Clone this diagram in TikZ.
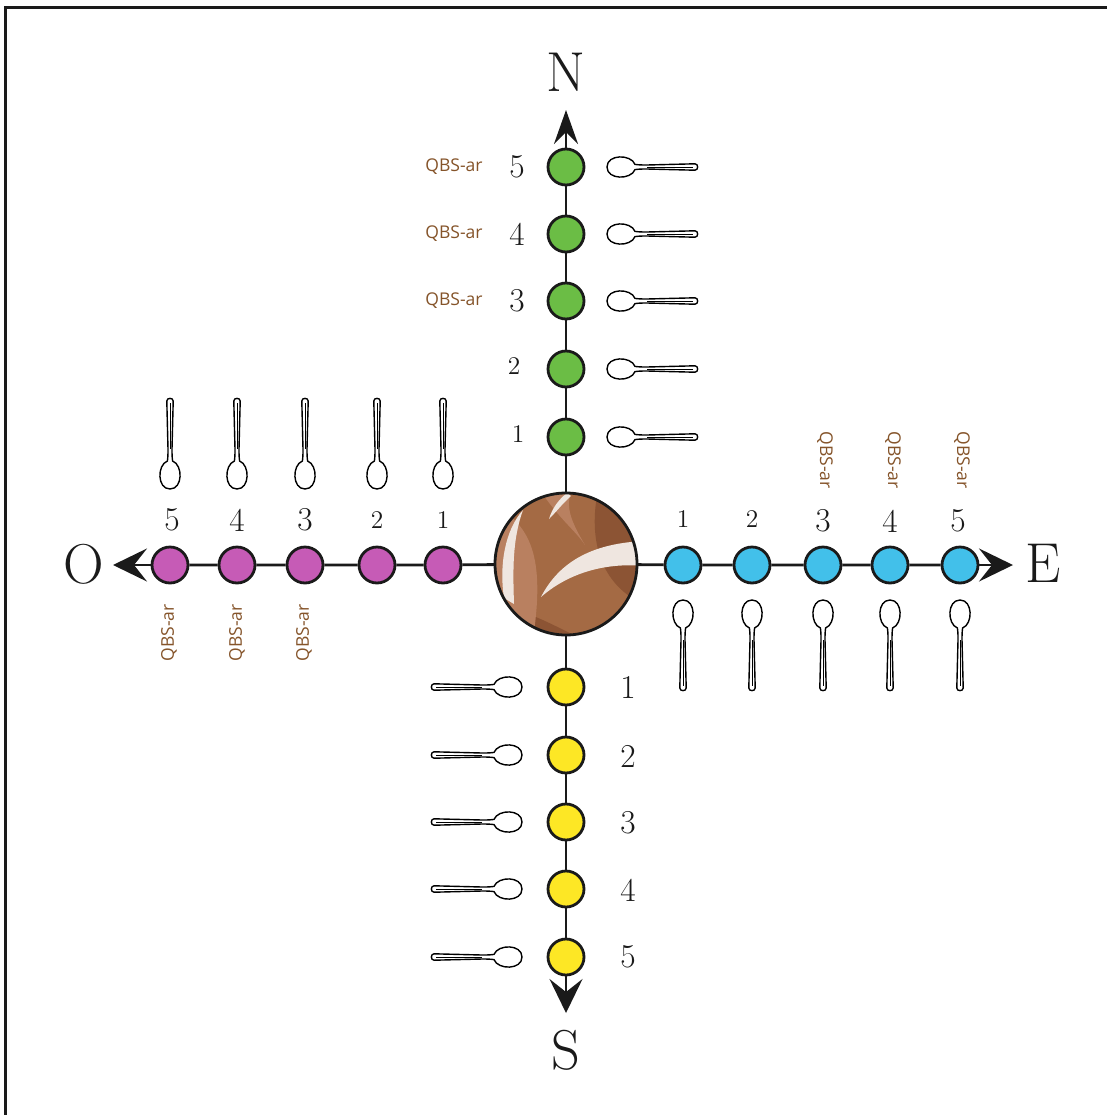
\documentclass[tikz,border=0pt]{standalone}
\usepackage{fontspec}
\newfontfamily\qbsfont{Open Sans}
\usetikzlibrary{arrows.meta}
\definecolor{inkcol}{HTML}{1A1A1A}
\definecolor{beadgreen}{HTML}{6BBD45}
\definecolor{beadpink}{HTML}{C65BB6}
\definecolor{beadcyan}{HTML}{42C0EA}
\definecolor{beadyellow}{HTML}{FDE725}
\definecolor{qbsbrown}{HTML}{85542A}
\definecolor{ballbase}{HTML}{A46A44}
\definecolor{balldark}{HTML}{8C5434}
\definecolor{balllight}{HTML}{B98060}
\definecolor{ballstreak}{HTML}{EFE6E0}
\begin{document}
\begin{tikzpicture}[x=0.02cm,y=-0.02cm,
  axisline/.style={draw=inkcol, line width=0.056cm},
  bead/.style={circle, draw=inkcol, line width=0.056cm, minimum size=0.72cm, inner sep=0pt},
  beadN/.style={bead, fill=beadgreen},
  beadO/.style={bead, fill=beadpink},
  beadE/.style={bead, fill=beadcyan},
  beadS/.style={bead, fill=beadyellow},
  numbig/.style={font=\fontsize{19}{21}\selectfont, text=inkcol, inner sep=0pt},
  numsmall/.style={font=\fontsize{14.5}{16}\selectfont, text=inkcol, inner sep=0pt},
  compass/.style={font=\fontsize{32}{34}\selectfont, text=inkcol, inner sep=0pt},
  qbs/.style={font=\qbsfont\fontsize{10}{12}\selectfont, text=qbsbrown, inner sep=0pt},
  spoonline/.style={draw=black, line width=0.028cm, fill=white},
  tipwide/.style={-{Stealth[length=0.68cm,width=0.66cm,inset=0.26cm]}},
  tipnarrow/.style={-{Stealth[length=0.68cm,width=0.48cm,inset=0.24cm]}},
  spoon/.pic={
    \draw[spoonline] (12,-2.6) .. controls (8,-13) and (-16,-13) .. (-16,0)
      .. controls (-16,13) and (8,13) .. (12,2.6)
      .. controls (16,2) and (20,2) .. (24,2) -- (72,3.2)
      .. controls (75.5,3.2) and (75.5,-3.2) .. (72,-3.2) -- (24,-2)
      .. controls (20,-2) and (16,-2) .. (12,-2.6) -- cycle;
    \draw[black, line width=0.012cm] (24,0) -- (70,0);
  }
]
\useasboundingbox (0,0) rectangle (1107,1115);
\fill[white] (0,0) rectangle (1107,1115);
% frame
\draw[inkcol, line width=0.06cm] (5.5,1115) -- (5.5,7.5) -- (1107,7.5);

% central ball
\node[circle, minimum size=2.84cm, inner sep=0pt] (ball) at (566,564) {};
\begin{scope}
  \clip (566,564) circle (71);
  \fill[ballbase] (566,564) circle (71);
  \fill[balldark] (598,490) .. controls (588,540) and (600,585) .. (645,605) -- (645,490) -- cycle;
  \fill[balldark] (495,605) .. controls (540,612) and (575,640) .. (600,645) -- (495,645) -- cycle;
  \fill[balllight] (540,490) .. controls (560,520) and (575,530) .. (585,545) .. controls (570,520) and (565,505) .. (572,490) -- cycle;
  \fill[balllight] (492,505) .. controls (535,525) and (545,565) .. (532,645) -- (492,645) -- cycle;
  \fill[ballstreak] (523,510) .. controls (512,540) and (513,572) .. (514,604) -- (504,598) .. controls (499,565) and (505,530) .. (523,510) -- cycle;
  \fill[ballstreak] (541,597) .. controls (560,560) and (595,543) .. (645,541) -- (645,566) .. controls (602,562) and (566,575) .. (541,597) -- cycle;
  \fill[ballstreak] (549,519) .. controls (552,509) and (558,500) .. (567,493) -- (571,496) .. controls (563,503) and (557,511) .. (549,519) -- cycle;
\end{scope}
\draw[inkcol, line width=0.056cm] (566,564) circle (71);

% beads
\foreach \i/\yy in {1/437,2/369,3/301,4/234,5/167}
  \node[beadN] (n\i) at (566,\yy) {};
\foreach \i/\yy in {1/687,2/755,3/822,4/889,5/957}
  \node[beadS] (s\i) at (566,\yy) {};
\foreach \i/\xx in {1/443,2/377,3/305,4/237,5/170}
  \node[beadO] (o\i) at (\xx,565) {};
\foreach \i/\xx in {1/683,2/752,3/823,4/890,5/960}
  \node[beadE] (e\i) at (\xx,565) {};

% arrow ends
\coordinate (ntip) at (566,110);
\coordinate (stip) at (566,1013);
\coordinate (otip) at (113,565);
\coordinate (etip) at (1013,565);

% axes
\draw[axisline] (ball) -- (n1) -- (n2) -- (n3) -- (n4) -- (n5);
\draw[axisline] (ball) -- (s1) -- (s2) -- (s3) -- (s4) -- (s5);
\draw[axisline] (ball) -- (o1) -- (o2) -- (o3) -- (o4) -- (o5);
\draw[axisline] (ball) -- (e1) -- (e2) -- (e3) -- (e4) -- (e5);
\draw[axisline, tipnarrow] (n5) -- (ntip);
\draw[axisline, tipwide] (s5) -- (stip);
\draw[axisline, tipwide] (o5) -- (otip);
\draw[axisline, tipwide] (e5) -- (etip);

% compass letters
\node[compass] (lN) at (566,72) {N};
\node[compass] (lS) at (566,1050) {S};
\node[compass] (lO) at (84,564) {O};
\node[compass] (lE) at (1043,563) {E};

% numbers
\node[numsmall] (nn1) at (518,434) {1};
\node[numsmall] (nn2) at (514,366) {2};
\node[numbig] (nn3) at (517,301) {3};
\node[numbig] (nn4) at (517,234) {4};
\node[numbig] (nn5) at (517,167) {5};
\node[numsmall] (on1) at (443,520) {1};
\node[numsmall] (on2) at (377,520) {2};
\node[numbig] (on3) at (305,520) {3};
\node[numbig] (on4) at (237,520) {4};
\node[numbig] (on5) at (172,520) {5};
\node[numsmall] (en1) at (683,519) {1};
\node[numsmall] (en2) at (752,519) {2};
\node[numbig] (en3) at (823,521) {3};
\node[numbig] (en4) at (890,521) {4};
\node[numbig] (en5) at (958,521) {5};
\node[numbig] (sn1) at (628,687) {1};
\node[numbig] (sn2) at (628,756) {2};
\node[numbig] (sn3) at (628,823) {3};
\node[numbig] (sn4) at (628,890) {4};
\node[numbig] (sn5) at (628,957) {5};

% QBS-ar labels
\node[qbs] (qn3) at (454,301) {QBS-ar};
\node[qbs] (qn4) at (454,234) {QBS-ar};
\node[qbs] (qn5) at (454,167) {QBS-ar};
\node[qbs, rotate=90] (qo3) at (304,633) {QBS-ar};
\node[qbs, rotate=90] (qo4) at (237,633) {QBS-ar};
\node[qbs, rotate=90] (qo5) at (169,633) {QBS-ar};
\node[qbs, rotate=-90] (qe3) at (825,460) {QBS-ar};
\node[qbs, rotate=-90] (qe4) at (893,460) {QBS-ar};
\node[qbs, rotate=-90] (qe5) at (962,460) {QBS-ar};

% spoons
\foreach \yy in {167,234,301,369,437}
  \pic at (623,\yy) {spoon};
\foreach \yy in {687,755,822,889,957}
  \pic[rotate=180] at (506,\yy) {spoon};
\foreach \xx in {170,237,305,377,443}
  \pic[rotate=90] at (\xx,473) {spoon};
\foreach \xx in {683,752,823,890,960}
  \pic[rotate=-90] at (\xx,616) {spoon};
\end{tikzpicture}
\end{document}
